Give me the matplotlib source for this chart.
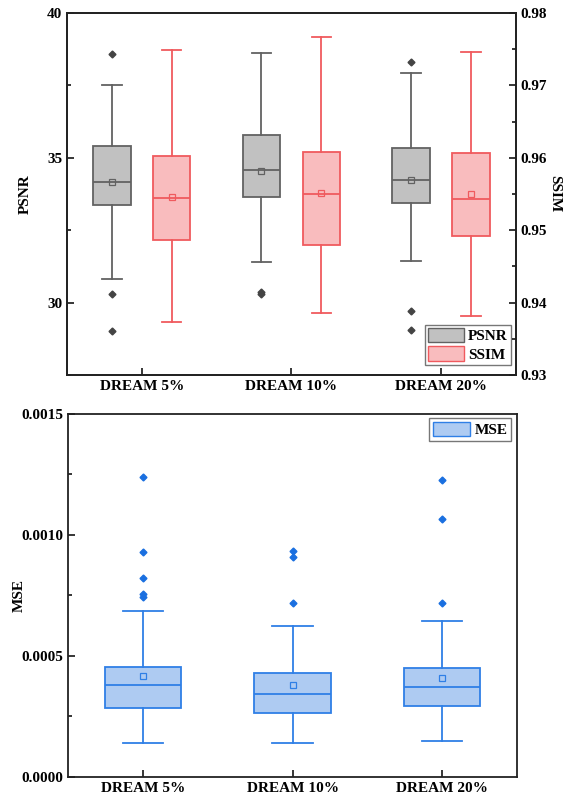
import matplotlib
matplotlib.use("Agg")
import matplotlib.pyplot as plt
from matplotlib.patches import Patch
from matplotlib.ticker import MultipleLocator, FormatStrFormatter

plt.rcParams['font.family'] = ['Liberation Serif', 'DejaVu Serif']
plt.rcParams['font.weight'] = 'bold'

categories = ["DREAM 5%", "DREAM 10%", "DREAM 20%"]

# PSNR stats: whislo, q1, med, q3, whishi, mean, outliers
psnr_whislo = [30.83, 31.40, 31.43]
psnr_q1 = [33.38, 33.64, 33.44]
psnr_med = [34.15, 34.59, 34.23]
psnr_q3 = [35.41, 35.77, 35.34]
psnr_whishi = [37.51, 38.62, 37.92]
psnr_mean = [34.15, 34.53, 34.25]
psnr_fliers = [[38.58, 30.29, 29.03], [30.38, 30.28], [38.30, 29.70, 29.07]]

ssim_whislo = [0.9373, 0.9385, 0.9382]
ssim_q1 = [0.9487, 0.9480, 0.9492]
ssim_med = [0.9544, 0.9550, 0.9543]
ssim_q3 = [0.9603, 0.9608, 0.9607]
ssim_whishi = [0.9749, 0.97665, 0.97458]
ssim_mean = [0.9546, 0.9551, 0.9550]
ssim_fliers = [[], [], []]

mse_whislo = [0.000140, 0.000140, 0.000149]
mse_q1 = [0.000285, 0.000264, 0.000293]
mse_med = [0.000382, 0.000344, 0.000373]
mse_q3 = [0.000456, 0.000430, 0.000450]
mse_whishi = [0.000687, 0.000623, 0.000646]
mse_mean = [0.000419, 0.000382, 0.000409]
mse_fliers = [[0.001241, 0.000928, 0.000824, 0.000755, 0.000744],
              [0.000934, 0.000909, 0.000719],
              [0.001229, 0.001065, 0.000718]]


def make_stats(lo, q1, med, q3, hi, mean, fl):
    return [dict(whislo=lo[i], q1=q1[i], med=med[i], q3=q3[i], whishi=hi[i],
                 mean=mean[i], fliers=fl[i]) for i in range(len(lo))]


def draw(ax, stats, positions, width, face, edge, flier_color, capw):
    ax.bxp(stats, positions=positions, widths=width, patch_artist=True,
           showmeans=True, showfliers=True, capwidths=capw,
           boxprops=dict(facecolor=face, edgecolor=edge, linewidth=1.3),
           medianprops=dict(color=edge, linewidth=1.3),
           whiskerprops=dict(color=edge, linewidth=1.3),
           capprops=dict(color=edge, linewidth=1.3),
           meanprops=dict(marker='s', markersize=4, markerfacecolor='none',
                          markeredgecolor=edge, markeredgewidth=0.9),
           flierprops=dict(marker='D', markersize=3.5, markerfacecolor=flier_color,
                           markeredgecolor=flier_color))


gray_face, gray_edge = '#c1c1c1', '#626262'
red_face, red_edge = '#f9bcbe', '#f05a5e'
blue_face, blue_edge = '#aecbf2', '#2f7fe6'

fig = plt.figure(figsize=(5.72, 7.97), dpi=100)
ax1 = fig.add_axes([0.117, 0.5295, 0.785, 0.4542])
ax1b = ax1.twinx()

pos = [1, 2, 3]
draw(ax1, make_stats(psnr_whislo, psnr_q1, psnr_med, psnr_q3, psnr_whishi, psnr_mean, psnr_fliers),
     [p - 0.2 for p in pos], 0.25, gray_face, gray_edge, '#444444', 0.13)
draw(ax1b, make_stats(ssim_whislo, ssim_q1, ssim_med, ssim_q3, ssim_whishi, ssim_mean, ssim_fliers),
     [p + 0.2 for p in pos], 0.25, red_face, red_edge, red_edge, 0.13)

ax1.set_xlim(0.5, 3.5)
ax1.set_ylim(27.5, 40)
ax1b.set_ylim(0.93, 0.98)
ax1.set_xticks(pos)
ax1.set_xticklabels(categories)
ax1.set_yticks([30, 35, 40])
ax1.yaxis.set_minor_locator(MultipleLocator(2.5))
ax1b.yaxis.set_major_locator(MultipleLocator(0.01))
ax1b.yaxis.set_minor_locator(MultipleLocator(0.005))
ax1b.yaxis.set_major_formatter(FormatStrFormatter('%.2f'))
ax1.set_ylabel('PSNR', fontsize=11, fontweight='bold')
ax1.yaxis.set_label_coords(-0.078, 0.5)
ax1b.set_ylabel('SSIM', fontsize=11, fontweight='bold', rotation=270, labelpad=10)

ax1.legend(handles=[Patch(facecolor=gray_face, edgecolor=gray_edge, label='PSNR'),
                    Patch(facecolor=red_face, edgecolor=red_edge, label='SSIM')],
           loc='lower right', bbox_to_anchor=(0.989, 0.028), borderaxespad=0,
           frameon=True, fancybox=False, edgecolor='#555555',
           handlelength=2.3, handleheight=1.1,
           borderpad=0.2, labelspacing=0.2, handletextpad=0.3,
           prop=dict(weight='bold', size=11))

ax2 = fig.add_axes([0.119, 0.0251, 0.785, 0.4555])
draw(ax2, make_stats(mse_whislo, mse_q1, mse_med, mse_q3, mse_whishi, mse_mean, mse_fliers),
     pos, 0.51, blue_face, blue_edge, '#1a6fe0', 0.27)
ax2.set_xlim(0.5, 3.5)
ax2.set_ylim(0, 0.0015)
ax2.set_xticks(pos)
ax2.set_xticklabels(categories)
ax2.yaxis.set_major_locator(MultipleLocator(0.0005))
ax2.yaxis.set_minor_locator(MultipleLocator(0.00025))
ax2.yaxis.set_major_formatter(FormatStrFormatter('%.4f'))
ax2.set_ylabel('MSE', fontsize=11, fontweight='bold')
ax2.yaxis.set_label_coords(-0.094, 0.5)
ax2.legend(handles=[Patch(facecolor=blue_face, edgecolor=blue_edge, label='MSE')],
           loc='upper right', bbox_to_anchor=(0.987, 0.989), borderaxespad=0,
           frameon=True, fancybox=False, edgecolor='#555555',
           handlelength=2.4, handleheight=1.1, borderpad=0.25, handletextpad=0.3,
           prop=dict(weight='bold', size=11))

for ax in (ax1, ax1b, ax2):
    for s in ax.spines.values():
        s.set_linewidth(1.3)
        s.set_color('#222222')
    ax.tick_params(direction='in', which='both', labelsize=11, width=1.1)
    ax.tick_params(which='major', length=5)
    ax.tick_params(which='minor', length=3)
    for lab in ax.get_xticklabels() + ax.get_yticklabels():
        lab.set_fontweight('bold')
ax1.tick_params(axis='y', right=False)
ax1.tick_params(axis='x', which='minor', bottom=False)
ax2.tick_params(axis='x', which='minor', bottom=False)

fig.savefig('out.png', dpi=100)
